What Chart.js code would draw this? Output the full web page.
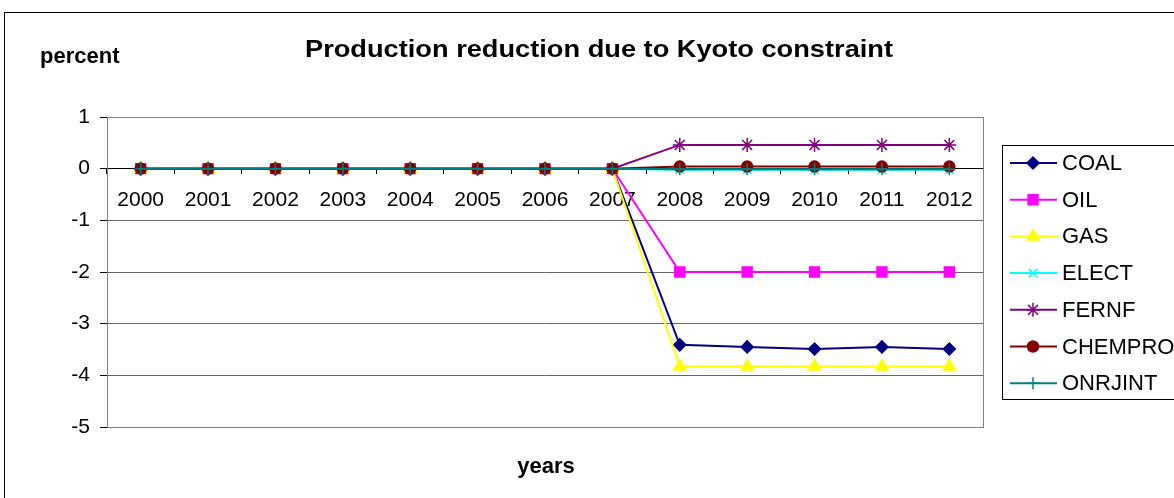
<!DOCTYPE html>
<html lang="en">
<head>
<meta charset="utf-8" />
<title>Production reduction due to Kyoto constraint</title>
<script src="https://cdn.jsdelivr.net/npm/chart.js@4.4.1/dist/chart.umd.min.js"></script>
<style>
	html, body { margin: 0; padding: 0; background: #fff; overflow: hidden; }
	#chart { display: block; }
</style>
</head>
<body>
<canvas id="chart" width="1174" height="498"></canvas>
<script>
	var years = ['2000', '2001', '2002', '2003', '2004', '2005', '2006', '2007', '2008', '2009', '2010', '2011', '2012'];
	var yTicks = [1, 0, -1, -2, -3, -4, -5];

	var coal    = [0, 0, 0, 0, 0, 0, 0, 0, -3.41, -3.45, -3.49, -3.45, -3.49];
	var oil     = [0, 0, 0, 0, 0, 0, 0, 0, -2.0, -2.0, -2.0, -2.0, -2.0];
	var gas     = [0, 0, 0, 0, 0, 0, 0, 0, -3.83, -3.83, -3.83, -3.83, -3.83];
	var elect   = [0, 0, 0, 0, 0, 0, 0, 0, -0.02, -0.02, -0.02, -0.02, -0.02];
	var fernf   = [0, 0, 0, 0, 0, 0, 0, 0, 0.46, 0.46, 0.46, 0.46, 0.46];
	var chempro = [0, 0, 0, 0, 0, 0, 0, 0, 0.04, 0.04, 0.04, 0.04, 0.04];
	var onrjint = [0, 0, 0, 0, 0, 0, 0, 0, -0.01, -0.01, -0.01, -0.01, -0.01];

	var FONT = "'Liberation Sans', Arial, sans-serif";

	function series(label, data, color, style, radius, order) {
		return {
			label: label,
			data: data,
			borderColor: color,
			backgroundColor: color,
			pointBorderColor: color,
			pointBackgroundColor: color,
			pointStyle: style,
			pointRadius: radius,
			pointBorderWidth: 1.5,
			borderWidth: 2,
			tension: 0,
			order: order
		};
	}

	// frame, titles and the boxed legend drawn like the old spreadsheet chart
	var sheetDecor = {
		id: 'sheetDecor',
		beforeDatasetsDraw: function (chart) {
			var a = chart.chartArea, ctx = chart.ctx;
			ctx.save();
			ctx.strokeStyle = '#808080';
			ctx.lineWidth = 1;
			ctx.strokeRect(Math.round(a.left) + 0.5, Math.round(a.top) + 0.5, Math.round(a.right - a.left), Math.round(a.bottom - a.top));
			ctx.restore();
		},
		afterDraw: function (chart) {
			var ctx = chart.ctx;
			ctx.save();
			ctx.strokeStyle = '#000';
			ctx.lineWidth = 1;
			ctx.strokeRect(4.5, 12.5, 1300, 600);

			ctx.fillStyle = '#000';
			ctx.textBaseline = 'alphabetic';
			ctx.textAlign = 'center';
			ctx.font = 'bold 23px ' + FONT;
			var title = 'Production reduction due to Kyoto constraint';
			var w = ctx.measureText(title).width;
			ctx.save();
			ctx.translate(599, 57);
			ctx.scale(588 / w, 1);
			ctx.fillText(title, 0, 0);
			ctx.restore();

			ctx.font = 'bold 22px ' + FONT;
			ctx.textAlign = 'left';
			ctx.fillText('percent', 40, 63);
			ctx.textAlign = 'center';
			ctx.fillText('years', 546, 473);

			// legend
			ctx.strokeRect(1002.5, 145.5, 300, 254);
			ctx.font = '22px ' + FONT;
			ctx.textAlign = 'left';
			ctx.textBaseline = 'middle';
			chart.data.datasets.forEach(function (ds, i) {
				var y = 163 + i * 36.7;
				ctx.strokeStyle = ds.borderColor;
				ctx.fillStyle = ds.backgroundColor;
				ctx.lineWidth = 2;
				ctx.beginPath();
				ctx.moveTo(1010, y);
				ctx.lineTo(1057, y);
				ctx.stroke();
				ctx.lineWidth = 1.5;
				Chart.helpers.drawPoint(ctx, { pointStyle: ds.pointStyle, radius: ds.pointRadius, rotation: 0, borderWidth: 1.5 }, 1033, y);
				ctx.fillStyle = '#000';
				ctx.fillText(ds.label, 1062, y + 1);
			});
			ctx.restore();
		}
	};

	new Chart(document.getElementById('chart'), {
		type: 'line',
		data: {
			labels: years,
			datasets: [
				series('COAL', coal, '#000080', 'rectRot', 6, 7),
				series('OIL', oil, '#FF00FF', 'rect', 7, 6),
				series('GAS', gas, '#FFFF00', 'triangle', 7, 5),
				series('ELECT', elect, '#00FFFF', 'crossRot', 6, 4),
				series('FERNF', fernf, '#800080', 'star', 7, 3),
				series('CHEMPRO', chempro, '#800000', 'circle', 5.5, 2),
				series('ONRJINT', onrjint, '#008080', 'cross', 6, 1)
			]
		},
		options: {
			responsive: false,
			animation: false,
			devicePixelRatio: 1,
			layout: { padding: { left: 0, top: 117, right: 191, bottom: 71 } },
			plugins: {
				legend: { display: false },
				title: { display: false },
				tooltip: { enabled: false }
			},
			scales: {
				x: {
					type: 'category',
					position: { y: 0 },
					offset: true,
					grid: { display: true, drawOnChartArea: false, drawTicks: true, tickLength: 5, color: '#000', offset: true },
					border: { display: true, color: '#000', width: 1 },
					ticks: { color: '#000', font: { family: FONT, size: 21 }, padding: 14, maxRotation: 0, autoSkip: false }
				},
				y: {
					min: -5,
					max: 1,
					afterBuildTicks: function (scale) {
						scale.ticks = yTicks.map(function (v) { return { value: v }; });
					},
					afterFit: function (scale) { scale.width = 107; },
					grid: {
						color: function (c) { return c.tick && c.tick.value === 0 ? '#000' : '#666'; },
						tickColor: '#000',
						tickLength: 7,
						drawTicks: true
					},
					border: { display: true, color: '#000', width: 1 },
					ticks: { color: '#000', font: { family: FONT, size: 21 }, padding: 10 }
				}
			}
		},
		plugins: [sheetDecor]
	});
</script>
</body>
</html>
